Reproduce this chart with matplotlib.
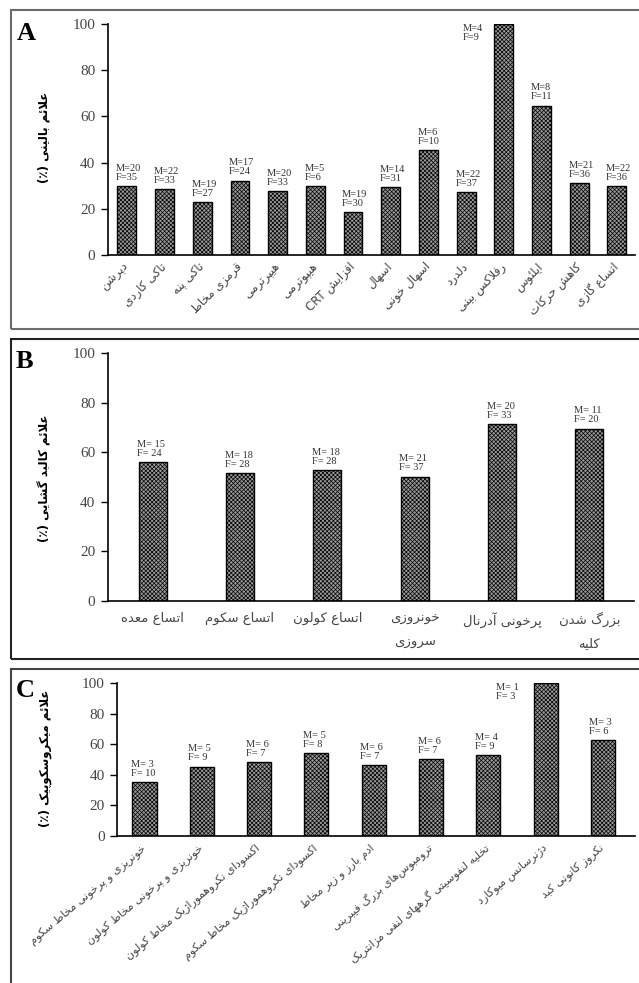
# Bar charts of clinical, necropsy and microscopic signs (three boxed panels)
import matplotlib
matplotlib.use('Agg')
import matplotlib.pyplot as plt
from matplotlib.patches import Rectangle

# ---- data -------------------------------------------------------------
labelsA = ['دپرشن', 'تاکی کاردی', 'تاکی پنه', 'قرمزی مخاط', 'هیپرترمی',
           'هیپوترمی', 'افزایش CRT', 'اسهال', 'اسهال خونی', 'دلدرد',
           'رفلاکس بینی', 'ایلئوس', 'کاهش حرکات', 'اتساع گازی']
valuesA = [30, 28.5, 22.8, 32.2, 27.6, 30, 18.6, 29.3, 45.3, 27.1,
           100, 64.7, 31, 29.7]
maleA = [20, 22, 19, 17, 20, 5, 19, 14, 6, 22, 4, 8, 21, 22]
femaleA = [35, 33, 27, 24, 33, 6, 30, 31, 10, 37, 9, 11, 36, 36]

labelsB = ['اتساع معده', 'اتساع سکوم', 'اتساع کولون', 'خونروزی\nسروزی',
           'پرخونی آدرنال', 'بزرگ شدن\nکلیه']
valuesB = [55.9, 51.6, 52.8, 50.2, 71.4, 69.5]
maleB = [15, 18, 18, 21, 20, 11]
femaleB = [24, 28, 28, 37, 33, 20]

labelsC = ['خونریزی و پرخونی مخاط سکوم', 'خونریزی و پرخونی مخاط کولون',
           'اکسودای نکروهموراژیک مخاط کولون', 'اکسودای نکروهموراژیک مخاط سکوم',
           'ادم بارز و زیر مخاط', 'ترومبوس\u200cهای بزرگ فیبرینی',
           'تخلیه لنفوسیتی گرههای لنفی مزانتریک', 'دژنرسانس میوکارد',
           'نکروز کانونی کبد']
valuesC = [35.2, 45.4, 48.3, 54.2, 46.3, 50.2, 53.0, 100, 62.7]
maleC = [3, 5, 6, 5, 6, 6, 4, 1, 3]
femaleC = [10, 9, 7, 8, 7, 7, 9, 3, 6]

yticks = [0, 20, 40, 60, 80, 100]

# ---- minimal Persian shaping (matplotlib has no Arabic shaping/bidi) ---
# char -> (isolated form code point, number of forms: 2 right-joining, 4 dual)
FORMS = {
    '\u0622': (0xFE81, 2), 'ا': (0xFE8D, 2), 'ئ': (0xFE89, 4),
    'ب': (0xFE8F, 4), 'ت': (0xFE95, 4), 'ث': (0xFE99, 4), 'ج': (0xFE9D, 4),
    'ح': (0xFEA1, 4), 'خ': (0xFEA5, 4), 'د': (0xFEA9, 2), 'ذ': (0xFEAB, 2),
    'ر': (0xFEAD, 2), 'ز': (0xFEAF, 2), 'س': (0xFEB1, 4), 'ش': (0xFEB5, 4),
    'ص': (0xFEB9, 4), 'ض': (0xFEBD, 4), 'ط': (0xFEC1, 4), 'ظ': (0xFEC5, 4),
    'ع': (0xFEC9, 4), 'غ': (0xFECD, 4), 'ف': (0xFED1, 4), 'ق': (0xFED5, 4),
    'ل': (0xFEDD, 4), 'م': (0xFEE1, 4), 'ن': (0xFEE5, 4), 'ه': (0xFEE9, 4),
    'و': (0xFEED, 2), 'پ': (0xFB56, 4), 'چ': (0xFB7A, 4), 'ژ': (0xFB8A, 2),
    'ک': (0xFB8E, 4), 'گ': (0xFB92, 4), 'ی': (0xFBFC, 4),
}


def shape_word(word):
    out = []
    n = len(word)
    i = 0
    while i < n:
        c = word[i]
        if c not in FORMS:
            if c != '\u200c':
                out.append(c)
            i += 1
            continue
        prev = word[i - 1] if i > 0 else None
        conn_prev = prev in FORMS and FORMS[prev][1] == 4
        nxt = word[i + 1] if i + 1 < n else None
        # lam-alef ligature
        if c == 'ل' and nxt in ('ا', '\u0622'):
            base = 0xFEFB if nxt == 'ا' else 0xFEF5
            out.append(chr(base + (1 if conn_prev else 0)))
            i += 2
            continue
        conn_next = nxt in FORMS and FORMS[c][1] == 4
        if conn_prev and conn_next:
            k = 3
        elif conn_prev:
            k = 1
        elif conn_next:
            k = 2
        else:
            k = 0
        out.append(chr(FORMS[c][0] + k))
        i += 1
    return ''.join(out)


def fa(text):
    lines = []
    for line in text.split('\n'):
        tokens = []
        for tok in line.split(' '):
            if any(ch in FORMS for ch in tok):
                tokens.append(shape_word(tok)[::-1])
            else:
                tokens.append(tok)
        lines.append(' '.join(tokens[::-1]))
    return '\n'.join(lines)


# ---- figure -----------------------------------------------------------
plt.rcParams['hatch.linewidth'] = 0.5
W, H = 639, 983
fig = plt.figure(figsize=(W / 100, H / 100), dpi=100)

serif = ['Liberation Serif', 'DejaVu Serif']
persian = ['DejaVu Sans']
grey = '#454545'


def px(x0, y0, x1, y1):
    # pixel box (top-left origin) -> figure rect
    return [x0 / W, 1 - y1 / H, (x1 - x0) / W, (y1 - y0) / H]


def panel(rect, labels, values, male, female, width, letter, ylab,
          rot, space, letter_xy, ylab_xy, lab_size, lab_pad, xlim, side):
    ax = fig.add_axes(rect)
    x = list(range(len(values)))
    ax.bar(x, values, width=width, color='#9a9a9a', edgecolor='black',
           hatch='xxxxxxxx', linewidth=1.0)
    ax.set_ylim(0, 100)
    ax.set_xlim(*xlim)
    ax.set_yticks(yticks)
    ax.set_yticklabels([str(t) for t in yticks], family=serif, fontsize=11,
                       color=grey)
    ax.tick_params(axis='y', length=5, width=1, pad=4, color='black')
    ax.tick_params(axis='x', length=0, pad=lab_pad)
    ax.set_xticks(x)
    if rot:
        ax.set_xticklabels([fa(l) for l in labels], rotation=rot, ha='right',
                           va='center', rotation_mode='anchor',
                           family=persian, fontsize=lab_size, color=grey)
    else:
        ax.set_xticklabels([fa(l) for l in labels], ha='center', va='top',
                           family=persian, fontsize=lab_size, color=grey,
                           linespacing=2.1)
    for s in ['top', 'right']:
        ax.spines[s].set_visible(False)
    for s in ['left', 'bottom']:
        ax.spines[s].set_linewidth(1.2)

    # M / F counts above each bar (beside the bar when it reaches 100)
    for i, v in enumerate(values):
        txt = 'M={}{}\nF={}{}'.format(space, male[i], space, female[i])
        if v >= 100:
            ax.annotate(txt, (i - width / 2, v), xytext=(-side, 0),
                        textcoords='offset points', ha='right', va='top',
                        multialignment='left', family=serif, fontsize=7.5,
                        color='#333333', linespacing=1.0)
        else:
            ax.annotate(txt, (i - width / 2, v), xytext=(-1, 3),
                        textcoords='offset points', ha='left', va='bottom',
                        family=serif, fontsize=7.5, color='#333333',
                        linespacing=1.0)

    fig.text(letter_xy[0] / W, 1 - letter_xy[1] / H, letter, family=serif,
             fontsize=19, fontweight='bold', ha='left', va='top')
    fig.text(ylab_xy[0] / W, 1 - ylab_xy[1] / H, fa(ylab), family=persian,
             fontsize=8.5, fontweight='bold', rotation=90, ha='center',
             va='center')
    return ax


# panel frames
for (y0, y1, c) in [(10, 329, '#6a6a6a'), (339, 659, '#222222'),
                    (669, 990, '#444444')]:
    fig.patches.append(Rectangle((11 / W, 1 - y1 / H), 1, (y1 - y0) / H,
                                 transform=fig.transFigure, fill=False,
                                 edgecolor=c, linewidth=1.5))

panel(px(108, 24, 635, 255), labelsA, valuesA, maleA, femaleA, 0.5, 'A',
      'علائم بالینی (٪)', 45, '', (17, 22), (44, 137), 8.5, 7,
      (-0.5, len(valuesA) - 0.52), 8)
panel(px(108, 353, 634, 601), labelsB, valuesB, maleB, femaleB, 0.32, 'B',
      'علائم کالبد گشایی (٪)', 0, ' ', (16, 350), (45, 478), 9.5, 8,
      (-0.51, len(valuesB) - 0.49), 8)
panel(px(117, 683, 635, 836), labelsC, valuesC, maleC, femaleC, 0.42, 'C',
      'علائم میکروسکوپیک (٪)', 40, ' ', (16, 679), (45, 758), 8, 8,
      (-0.48, len(valuesC) - 0.44), 11)

fig.savefig('out.png', dpi=100)
